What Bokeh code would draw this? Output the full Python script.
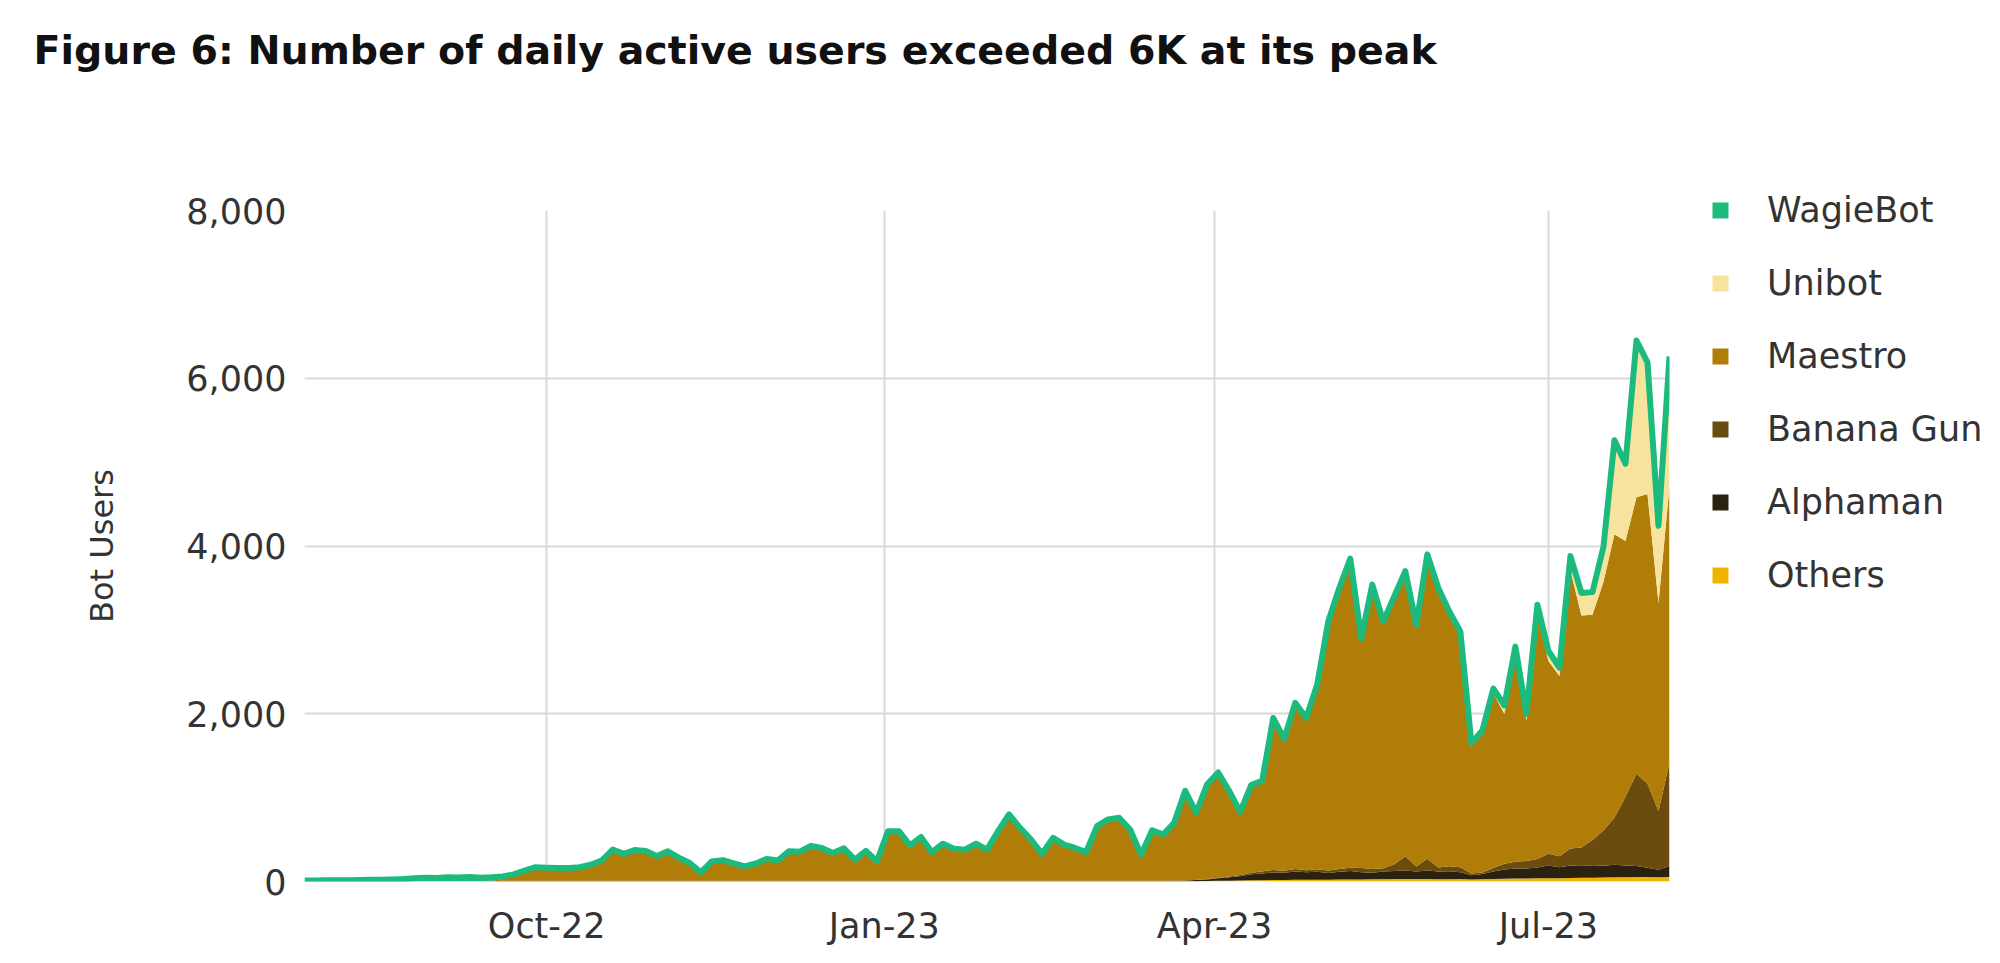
import pandas as pd
from bokeh.plotting import figure
from bokeh.models import (ColumnDataSource, FixedTicker, DatetimeTickFormatter,
                          NumeralTickFormatter, Legend, LegendItem, Range1d, Title)
from bokeh.transform import stack
from bokeh.embed import file_html
from bokeh.resources import INLINE

# ---------------- data ----------------
start_date = "2022-07-27"          # first sample, one sample every 3 days
n_samples = 125
dates = pd.date_range(start_date, periods=n_samples, freq="3D")

tick_dates = ["2022-10-01", "2023-01-01", "2023-04-01", "2023-07-01"]
y_ticks = [0, 2000, 4000, 6000, 8000]

series_names = ["WagieBot", "Unibot", "Maestro", "Banana Gun", "Alphaman", "Others"]

wagiebot = [
    12, 12, 14, 15, 16, 18, 20, 22, 25, 30,
    38, 45, 42, 50, 48, 50, 40, 40, 30, 25,
    20, 20, 20, 20, 20, 20, 20, 20, 20, 20,
    20, 20, 20, 20, 20, 20, 20, 20, 20, 20,
    20, 20, 20, 20, 20, 20, 20, 20, 20, 20,
    20, 20, 20, 20, 20, 20, 20, 20, 20, 20,
    20, 20, 20, 20, 20, 20, 20, 20, 20, 20,
    20, 20, 20, 20, 20, 20, 20, 20, 20, 20,
    20, 20, 20, 20, 20, 20, 20, 20, 20, 20,
    20, 20, 20, 20, 20, 20, 20, 20, 20, 20,
    20, 20, 20, 20, 20, 20, 20, 20, 20, 20,
    20, 20, 20, 20, 20, 20, 20, 20, 20, 20,
    20, 20, 20, 20, 20,
]
unibot = [
    0, 0, 0, 0, 0, 0, 0, 0, 0, 0,
    0, 0, 0, 0, 0, 0, 0, 0, 0, 0,
    0, 0, 0, 0, 0, 0, 0, 0, 0, 0,
    0, 0, 0, 0, 0, 0, 0, 0, 0, 0,
    0, 0, 0, 0, 0, 0, 0, 0, 0, 0,
    0, 0, 0, 0, 0, 0, 0, 0, 0, 0,
    0, 0, 0, 0, 0, 0, 0, 0, 0, 0,
    0, 0, 0, 0, 0, 0, 0, 0, 0, 0,
    0, 0, 0, 5, 5, 5, 5, 5, 10, 10,
    10, 10, 10, 10, 15, 15, 15, 15, 15, 15,
    20, 20, 20, 20, 20, 20, 20, 30, 40, 80,
    100, 60, 120, 100, 80, 150, 250, 250, 400, 1100,
    900, 1850, 1550, 900, 1530,
]
maestro = [
    0, 0, 0, 0, 0, 0, 0, 0, 0, 0,
    0, 0, 0, 0, 0, 5, 5, 10, 20, 50,
    100, 140, 135, 130, 132, 140, 170, 220, 350, 300,
    345, 335, 275, 330, 255, 190, 80, 210, 225, 185,
    150, 185, 240, 220, 330, 325, 395, 370, 310, 365,
    230, 335, 210, 570, 570, 400, 500, 320, 420, 360,
    350, 420, 350, 570, 770, 610, 470, 300, 490, 410,
    370, 320, 630, 710, 730, 590, 290, 580, 530, 670,
    1048, 783, 1110, 1232, 995, 728, 1020, 1055, 1782, 1542,
    1950, 1785, 2173, 2938, 3315, 3650, 2705, 3357, 2907, 3160,
    3360, 2840, 3590, 3292, 2997, 2770, 1515, 1642, 2080, 1788,
    2445, 1675, 2892, 2300, 2150, 3318, 2765, 2685, 2962, 3380,
    3050, 3295, 3455, 2480, 3295,
]
banana_gun = [
    0, 0, 0, 0, 0, 0, 0, 0, 0, 0,
    0, 0, 0, 0, 0, 0, 0, 0, 0, 0,
    0, 0, 0, 0, 0, 0, 0, 0, 0, 0,
    0, 0, 0, 0, 0, 0, 0, 0, 0, 0,
    0, 0, 0, 0, 0, 0, 0, 0, 0, 0,
    0, 0, 0, 0, 0, 0, 0, 0, 0, 0,
    0, 0, 0, 0, 0, 0, 0, 0, 0, 0,
    0, 0, 0, 0, 0, 0, 0, 0, 0, 0,
    0, 0, 5, 5, 10, 15, 20, 25, 30, 25,
    30, 25, 30, 30, 35, 40, 50, 45, 40, 80,
    170, 60, 140, 50, 60, 60, 20, 20, 40, 70,
    80, 90, 100, 140, 130, 200, 220, 300, 420, 560,
    820, 1100, 1000, 700, 1230,
]
alphaman = [
    0, 0, 0, 0, 0, 0, 0, 0, 0, 0,
    0, 0, 0, 0, 0, 0, 0, 0, 10, 10,
    10, 10, 10, 10, 10, 10, 10, 10, 10, 10,
    10, 10, 10, 10, 10, 10, 10, 10, 10, 10,
    10, 10, 10, 10, 10, 10, 10, 10, 10, 10,
    10, 10, 10, 10, 10, 10, 10, 10, 10, 10,
    10, 10, 10, 10, 10, 10, 10, 10, 10, 10,
    10, 10, 10, 10, 10, 10, 10, 10, 10, 10,
    12, 15, 20, 30, 40, 50, 70, 80, 90, 85,
    100, 90, 95, 80, 90, 100, 85, 75, 90, 95,
    100, 90, 100, 90, 95, 80, 50, 60, 90, 110,
    120, 120, 130, 150, 130, 150, 140, 150, 140, 150,
    140, 130, 110, 90, 130,
]
others = [
    0, 0, 0, 0, 0, 0, 0, 0, 0, 0,
    0, 0, 0, 0, 0, 0, 0, 0, 0, 0,
    0, 0, 0, 0, 0, 0, 0, 0, 0, 0,
    0, 0, 0, 0, 0, 0, 0, 0, 0, 0,
    0, 0, 0, 0, 0, 0, 0, 0, 0, 0,
    0, 0, 0, 0, 0, 0, 0, 0, 0, 0,
    0, 0, 0, 0, 0, 0, 0, 0, 0, 0,
    0, 0, 0, 0, 0, 0, 0, 0, 0, 0,
    0, 2, 5, 8, 10, 12, 15, 15, 18, 18,
    20, 20, 22, 22, 25, 25, 25, 28, 28, 30,
    30, 30, 30, 28, 28, 30, 25, 28, 30, 32,
    35, 35, 38, 40, 40, 42, 45, 45, 48, 50,
    50, 55, 55, 50, 55,
]

# ---------------- styling ----------------
colors = {
    "others": "#f0b400",
    "alphaman": "#2b2110",
    "banana_gun": "#6b4b0e",
    "maestro": "#b07d08",
    "unibot": "#f8e39e",
    "wagiebot": "#1dba7d",
}
stack_order = ["others", "alphaman", "banana_gun", "maestro", "unibot", "wagiebot"]
legend_order = ["wagiebot", "unibot", "maestro", "banana_gun", "alphaman", "others"]

source = ColumnDataSource(dict(
    date=dates,
    others=others, alphaman=alphaman, banana_gun=banana_gun,
    maestro=maestro, unibot=unibot, wagiebot=wagiebot,
))

FONT = "DejaVu Sans"
TXT = "#333333"

p = figure(frame_width=1365, frame_height=671,
           output_backend="svg", toolbar_location=None,
           x_axis_type="datetime",
           x_range=Range1d(dates[0].to_pydatetime(), dates[-1].to_pydatetime()),
           y_range=Range1d(0, 8000),
           min_border_left=304, min_border_right=315,
           min_border_top=210, min_border_bottom=74)
p.outline_line_color = None
p.background_fill_color = "white"
p.border_fill_color = "white"
p.title.text = ""

# spacer panel between the title and the plot area (closest to the frame)
spacer = Title(text=" ", text_font_size="10px", standoff=102)
p.add_layout(spacer, "above")
# chart title (outermost, at the top of the page)
main_title = Title(text="Figure 6: Number of daily active users exceeded 6K at its peak",
                   align="left", offset=-271, standoff=46,
                   text_font=FONT, text_font_style="bold", text_font_size="39.5px",
                   text_color="#111111")
p.add_layout(main_title, "above")

rends = p.varea_stack(stackers=stack_order, x="date", source=source,
                      color=[colors[k] for k in stack_order])
p.line(x="date", y=stack(*stack_order), source=source,
       line_color=colors["wagiebot"], line_width=6, line_join="round")

# axes
tick_ms = [pd.Timestamp(d).value // 10**6 for d in tick_dates]
p.xaxis.ticker = FixedTicker(ticks=tick_ms)
fmt = "%b-%y"
p.xaxis.formatter = DatetimeTickFormatter(days=fmt, months=fmt, years=fmt)
p.yaxis.ticker = FixedTicker(ticks=y_ticks)
p.yaxis.formatter = NumeralTickFormatter(format="0,0")

for ax in (p.xaxis[0], p.yaxis[0]):
    ax.axis_line_color = None
    ax.major_tick_line_color = None
    ax.minor_tick_line_color = None
    ax.major_label_text_font = FONT
    ax.major_label_text_font_size = "35px"
    ax.major_label_text_color = TXT
p.xaxis.major_label_standoff = 18
p.yaxis.major_label_standoff = 12
p.yaxis.axis_label = "Bot Users"
p.yaxis.axis_label_text_font = FONT
p.yaxis.axis_label_text_font_size = "32px"
p.yaxis.axis_label_text_font_style = "normal"
p.yaxis.axis_label_text_color = TXT
p.yaxis.axis_label_standoff = 62

p.xgrid.grid_line_color = "#d9d9d9"
p.ygrid.grid_line_color = "#d9d9d9"
p.xgrid.grid_line_width = 2
p.ygrid.grid_line_width = 2
p.grid.level = "underlay"

# legend (outside the frame, on the right)
rmap = dict(zip(stack_order, rends))
items = [LegendItem(label=lab, renderers=[rmap[k]]) for lab, k in zip(series_names, legend_order)]
legend = Legend(items=items, location=(41, 286), orientation="vertical",
                padding=0, margin=0, spacing=33,
                glyph_width=20, glyph_height=20, label_height=30,
                label_standoff=37, label_text_font=FONT,
                label_text_font_size="35px", label_text_color=TXT,
                border_line_color=None, background_fill_alpha=0)
p.add_layout(legend, "right")

open("out.html", "w").write(file_html(p, INLINE))
